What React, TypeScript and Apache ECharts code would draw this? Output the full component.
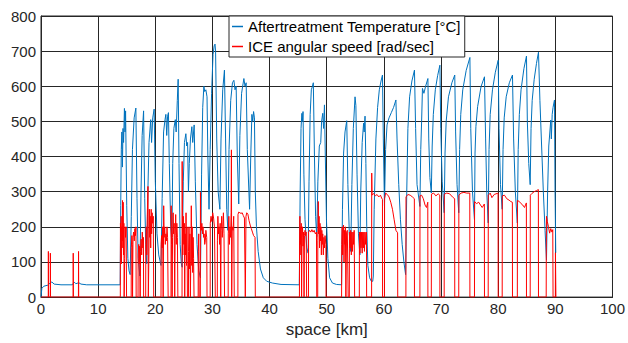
import { useEffect, useRef } from "react";
import * as echarts from "echarts";

type P = [number, number];

const FONT = "'Liberation Sans', Arial, Helvetica, sans-serif";
const seriesNames = ["Aftertreatment Temperature [°C]", "ICE angular speed [rad/sec]"];
const xAxisName = "space [km]";

// Aftertreatment temperature [°C] vs space [km]
const tempWarmup: P[] = [
  [0, 0], [0.15, 25], [0.5, 31], [1.2, 34], [1.6, 40], [1.9, 43], [2.3, 37], [3.5, 35], [5.5, 35],
  [5.8, 43], [6.1, 38], [6.6, 41], [7.0, 37], [8.0, 35], [13.85, 35],
];
const tempCycles1: P[] = [
  [13.95, 260], [14.05, 420], [14.15, 470], [14.25, 370], [14.35, 480], [14.45, 440], [14.6, 537], [14.7, 470], [14.8, 530], [15.0, 260], [15.2, 110], [15.4, 75], [15.6, 64],
  [15.8, 230], [16.0, 420], [16.3, 510], [16.6, 538], [16.8, 280], [17.0, 110], [17.3, 60],
  [17.5, 300], [17.7, 460], [17.95, 530], [18.15, 280], [18.35, 130], [18.5, 95],
  [18.7, 300], [18.9, 440], [19.2, 505], [19.35, 440], [19.55, 510], [19.8, 535], [20.0, 330], [20.3, 180], [20.6, 120], [21.0, 90],
  [21.2, 280], [21.45, 470], [21.7, 505], [21.85, 520], [22.0, 460], [22.15, 515], [22.3, 525], [22.45, 380], [22.7, 200], [22.9, 150],
  [23.05, 380], [23.25, 480], [23.5, 505], [23.65, 470], [23.85, 560], [24.0, 620], [24.15, 380], [24.35, 150], [24.55, 95], [24.7, 85],
  [24.9, 330], [25.1, 440], [25.35, 465], [25.5, 430], [25.65, 440], [25.8, 300], [25.95, 380], [26.15, 450], [26.4, 485], [26.55, 440], [26.8, 490], [27.0, 330], [27.3, 150], [27.6, 75], [27.9, 55],
];
const tempCycles2: P[] = [
  [28.1, 350], [28.3, 540], [28.5, 600], [28.65, 585], [28.85, 590], [29.05, 570], [29.2, 400], [29.4, 250],
  [29.6, 420], [29.85, 580], [30.1, 690], [30.3, 715], [30.45, 720], [30.55, 700], [30.75, 450], [31.0, 300], [31.3, 250],
  [31.5, 450], [31.8, 590], [32.1, 646], [32.3, 450], [32.5, 250], [32.7, 190],
  [32.9, 420], [33.2, 560], [33.5, 610], [33.75, 617], [33.95, 590], [34.15, 600], [34.35, 400], [34.6, 265],
  [34.8, 460], [35.1, 580], [35.5, 622], [35.7, 600], [35.9, 610], [36.1, 420], [36.5, 250],
  [36.7, 400], [36.9, 520], [37.05, 500], [37.2, 528], [37.35, 510], [37.5, 300], [37.7, 200], [38.0, 130], [38.4, 80], [38.9, 55], [39.5, 45], [40.5, 40], [42.0, 36], [45.2, 35],
];
const tempCycles3: P[] = [
  [45.35, 300], [45.5, 480], [45.65, 523], [45.75, 500], [45.85, 528], [46.0, 350], [46.2, 220], [46.5, 140], [46.75, 125],
  [46.9, 330], [47.1, 520], [47.3, 590], [47.5, 600], [47.65, 610], [47.85, 400], [48.05, 230], [48.25, 172],
  [48.45, 330], [48.7, 430], [48.95, 440], [49.1, 500], [49.3, 523], [49.45, 480], [49.6, 547], [49.75, 400], [49.95, 220], [50.2, 110], [50.5, 55], [51.0, 40], [51.7, 36], [52.6, 35],
  [52.75, 250], [52.95, 410], [53.2, 470], [53.5, 502], [53.7, 320], [53.95, 180], [54.2, 130],
  [54.4, 320], [54.65, 480], [54.95, 570], [55.1, 545], [55.3, 350], [55.55, 180], [55.8, 120],
  [55.95, 300], [56.2, 440], [56.45, 495], [56.55, 470], [56.7, 515], [56.85, 380], [57.0, 200], [57.2, 90], [57.5, 55], [57.8, 45], [58.05, 45],
];
const tempCycles4: P[] = [
  [58.15, 60], [58.3, 250], [58.6, 450], [58.9, 540], [59.2, 590], [59.5, 615], [59.75, 632], [59.9, 450], [60.1, 260],
  [60.3, 420], [60.55, 490], [60.9, 510], [61.3, 525], [61.7, 540], [62.1, 561], [62.3, 450], [62.6, 320], [62.9, 220], [63.2, 150], [63.5, 100], [63.8, 64],
  [64.0, 300], [64.2, 480], [64.5, 570], [64.9, 615], [65.35, 646], [65.55, 480], [65.8, 320], [66.3, 258],
  [66.45, 420], [66.6, 500], [66.75, 594], [67.0, 580], [67.3, 600], [67.7, 622], [67.85, 450], [68.05, 340], [68.3, 296],
  [68.45, 430], [68.65, 520], [69.0, 590], [69.4, 630], [69.8, 660], [69.95, 480], [70.2, 330], [70.55, 240],
  [70.7, 410], [70.9, 500], [71.3, 570], [71.9, 610], [72.4, 632], [72.55, 470], [72.8, 320], [73.1, 240],
  [73.25, 420], [73.45, 520], [73.8, 590], [74.4, 645], [75.05, 682], [75.2, 480], [75.5, 300], [75.85, 220],
  [75.95, 410], [76.1, 485], [76.4, 542], [77.0, 599], [77.6, 627], [77.8, 450], [78.0, 300], [78.25, 211],
  [78.4, 420], [78.6, 520], [79.0, 590], [79.5, 640], [80.0, 674], [80.15, 480], [80.4, 320], [80.7, 250],
  [80.85, 420], [81.05, 510], [81.4, 570], [81.95, 610], [82.5, 632], [82.7, 450], [83.0, 300], [83.35, 211],
  [83.5, 420], [83.7, 520], [84.0, 590], [84.5, 650], [84.95, 686], [85.1, 500], [85.35, 380], [85.6, 320],
  [85.75, 480], [85.95, 560], [86.3, 620], [86.7, 665], [87.05, 697], [87.3, 560], [87.6, 430], [87.9, 300], [88.2, 190], [88.45, 105],
  [88.65, 300], [88.85, 430], [89.2, 504], [89.3, 450], [89.45, 520], [89.6, 540], [89.85, 561], [89.95, 300], [90.07, 126],
];

// ICE angular speed [rad/sec] vs space [km]
const speedIdle: P[] = [
  [0, 0], [1.27, 0], [1.29, 130], [1.32, 0], [1.62, 0], [1.64, 125], [1.67, 0], [5.62, 0], [5.64, 125], [5.67, 0],
  [6.55, 0], [6.57, 130], [6.6, 0], [13.88, 0],
];
const speedUrban: P[] = [
  [13.9, 210], [13.97, 185], [14.03, 230], [14.08, 95], [14.14, 200], [14.2, 140], [14.26, 275], [14.32, 160], [14.38, 270], [14.44, 120], [14.5, 210], [14.55, 0],
  [14.62, 0], [14.64, 110], [14.72, 200], [14.8, 170], [14.9, 200], [14.97, 0],
  [15.78, 0], [15.8, 140], [15.9, 175], [15.98, 150], [16.02, 0], [16.08, 0], [16.1, 170], [16.2, 185], [16.32, 160], [16.42, 195], [16.52, 175], [16.62, 200], [16.65, 0],
  [16.98, 0], [17.0, 120], [17.1, 150], [17.18, 95], [17.26, 145], [17.35, 0], [17.4, 0], [17.42, 130], [17.52, 165], [17.62, 120], [17.72, 185], [17.82, 140], [17.92, 170], [17.96, 0],
  [18.32, 0], [18.34, 150], [18.42, 200], [18.5, 120], [18.6, 230], [18.72, 315], [18.78, 0], [18.86, 0], [18.88, 120], [18.96, 250], [19.04, 170], [19.12, 230], [19.2, 140], [19.28, 250], [19.36, 180], [19.45, 240], [19.55, 210], [19.65, 230], [19.72, 0],
  [21.0, 0], [21.02, 150], [21.1, 175], [21.2, 140], [21.28, 200], [21.38, 0], [21.45, 0], [21.47, 260], [21.55, 170], [21.65, 200], [21.75, 150], [21.85, 180], [21.95, 160], [22.05, 200], [22.15, 170], [22.25, 0],
  [22.75, 0], [22.77, 260], [22.85, 150], [22.95, 0], [23.0, 0], [23.02, 170], [23.12, 240], [23.2, 180], [23.3, 210], [23.4, 0], [23.45, 0], [23.47, 175], [23.57, 235], [23.67, 150], [23.77, 210], [23.87, 170], [23.95, 0],
  [24.68, 0], [24.7, 386], [24.75, 200], [24.82, 120], [24.9, 230], [25.0, 150], [25.08, 210], [25.15, 0], [25.2, 0], [25.22, 180], [25.3, 120], [25.38, 240], [25.46, 90], [25.55, 200], [25.62, 0],
  [25.8, 0], [25.82, 130], [25.9, 200], [25.98, 80], [26.06, 180], [26.14, 0], [26.2, 0], [26.22, 120], [26.3, 260], [26.38, 90], [26.46, 200], [26.54, 70], [26.62, 170], [26.7, 110], [26.78, 0],
  [27.5, 0], [27.52, 130], [27.6, 180], [27.68, 0],
  [27.88, 0], [27.9, 298], [27.96, 210], [28.05, 190], [28.15, 210], [28.25, 180], [28.35, 200], [28.45, 170], [28.55, 180], [28.65, 150], [28.75, 160], [28.85, 190], [29.0, 170], [29.05, 0],
];
const speedSuburban: P[] = [
  [29.6, 0], [29.62, 210], [29.75, 230], [29.9, 215], [30.05, 240], [30.2, 225], [30.35, 200], [30.5, 0],
  [30.85, 0], [30.87, 160], [30.95, 230], [31.05, 180], [31.15, 200], [31.25, 150], [31.35, 210], [31.45, 0], [31.5, 0], [31.52, 190], [31.62, 230], [31.72, 170], [31.82, 200], [31.92, 240], [32.02, 180], [32.12, 0],
  [32.75, 0], [32.77, 180], [32.87, 230], [32.97, 150], [33.07, 200], [33.17, 170], [33.27, 240], [33.32, 419], [33.37, 0], [33.45, 0], [33.47, 200], [33.6, 190], [33.72, 230], [33.82, 0],
  [34.45, 0], [34.47, 235], [34.6, 242], [34.8, 240], [35.0, 238], [35.2, 240], [35.4, 232], [35.6, 225], [35.75, 0], [35.85, 0], [35.87, 230], [36.0, 240], [36.2, 236], [36.4, 218], [36.6, 205], [36.8, 195], [37.0, 185], [37.2, 175], [37.45, 170], [37.5, 0],
];
const speedRural: P[] = [
  [45.22, 0], [45.24, 160], [45.3, 230], [45.36, 150], [45.42, 200], [45.48, 120], [45.54, 210], [45.6, 0], [45.66, 0], [45.68, 170], [45.76, 200], [45.85, 145], [45.95, 185], [46.03, 0], [46.08, 0], [46.1, 175], [46.2, 190], [46.3, 175], [46.4, 185], [46.48, 0],
  [46.8, 0], [46.82, 185], [47.0, 190], [47.2, 185], [47.4, 192], [47.6, 185], [47.8, 190], [48.0, 180], [48.2, 185], [48.25, 0],
  [48.42, 0], [48.44, 160], [48.52, 272], [48.58, 180], [48.66, 230], [48.74, 140], [48.82, 210], [48.9, 160], [48.98, 200], [49.06, 120], [49.14, 190], [49.22, 150], [49.3, 180], [49.4, 120], [49.5, 170], [49.6, 140], [49.7, 175], [49.85, 150], [49.88, 0],
  [52.6, 0], [52.62, 150], [52.7, 200], [52.78, 120], [52.86, 180], [52.94, 205], [53.02, 100], [53.1, 190], [53.18, 150], [53.26, 200], [53.35, 0], [53.45, 0], [53.47, 185], [53.6, 190], [53.75, 0],
  [53.95, 0], [53.97, 185], [54.1, 140], [54.2, 190], [54.3, 120], [54.4, 185], [54.5, 130], [54.6, 185], [54.7, 150], [54.8, 190], [54.88, 0],
  [55.7, 0], [55.72, 185], [55.8, 125], [55.9, 185], [56.0, 140], [56.1, 185], [56.2, 125], [56.3, 185], [56.4, 140], [56.5, 185], [56.6, 130], [56.7, 185], [56.8, 150], [56.95, 185], [56.98, 0],
];
const speedHighway: P[] = [
  [57.85, 0], [57.87, 353], [57.93, 290], [58.2, 295], [58.5, 288], [58.8, 292], [59.1, 285], [59.4, 290], [59.6, 282], [59.75, 278], [59.77, 0],
  [60.1, 0], [60.12, 280], [60.3, 296], [60.6, 292], [60.9, 285], [61.2, 270], [61.5, 250], [61.8, 220], [62.1, 190], [62.4, 183], [62.42, 0],
  [63.85, 0], [63.87, 285], [64.2, 292], [64.6, 290], [65.0, 285], [65.33, 280], [65.35, 0],
  [66.3, 0], [66.32, 288], [66.6, 290], [66.9, 280], [67.2, 262], [67.45, 255], [67.68, 270], [67.7, 0],
  [68.3, 0], [68.32, 293], [68.7, 296], [69.1, 288], [69.5, 294], [69.78, 290], [69.8, 0],
  [70.55, 0], [70.57, 293], [71.0, 296], [71.5, 294], [72.0, 285], [72.38, 280], [72.4, 0],
  [73.1, 0], [73.12, 290], [73.5, 296], [74.0, 298], [74.5, 296], [75.03, 296], [75.05, 0],
  [75.85, 0], [75.87, 272], [76.2, 266], [76.6, 270], [76.9, 262], [77.2, 255], [77.58, 265], [77.6, 0],
  [78.25, 0], [78.27, 290], [78.6, 296], [78.9, 283], [79.3, 292], [79.98, 296], [80.0, 0],
  [80.7, 0], [80.72, 288], [81.1, 290], [81.5, 280], [81.9, 276], [82.2, 272], [82.48, 270], [82.5, 0],
  [83.35, 0], [83.37, 275], [83.7, 272], [84.0, 266], [84.3, 262], [84.6, 255], [84.93, 268], [84.95, 0],
  [85.6, 0], [85.62, 290], [85.9, 295], [86.3, 300], [86.7, 303], [87.03, 306], [87.05, 0],
  [88.4, 0], [88.42, 140], [88.45, 230], [88.6, 215], [88.8, 200], [89.0, 182], [89.2, 195], [89.4, 185], [89.55, 192], [89.6, 0],
  [90.0, 0], [90.02, 126], [90.08, 126], [90.1, 0],
];

const tempData: P[] = [...tempWarmup, ...tempCycles1, ...tempCycles2, ...tempCycles3, ...tempCycles4];
const speedData: P[] = [...speedIdle, ...speedUrban, ...speedSuburban, [38, 0], ...speedRural, ...speedHighway];

const AXIS_COLOR = "#262626";
const GRID_COLOR = "#262626";

export default function App() {
  const ref = useRef<HTMLDivElement>(null);
  useEffect(() => {
    document.body.style.margin = "0";
    if (!ref.current) return;
    const chart = echarts.init(ref.current, undefined, { renderer: "svg" });
    chart.setOption({
      animation: false,
      backgroundColor: "#ffffff",
      textStyle: { fontFamily: FONT },
      grid: { left: 41, right: 13, top: 16, bottom: 45, show: true, borderColor: AXIS_COLOR, borderWidth: 1 },
      legend: {
        data: seriesNames,
        orient: "vertical",
        left: 229,
        top: 16,
        icon: "rect",
        itemWidth: 11,
        itemHeight: 1.5,
        itemGap: 5,
        padding: [3, 4, 3, 3],
        backgroundColor: "#ffffff",
        borderColor: AXIS_COLOR,
        borderWidth: 1,
        borderRadius: 0,
        textStyle: { fontSize: 15, color: "#000000", fontFamily: FONT },
      },
      xAxis: {
        type: "value",
        min: 0,
        max: 100,
        interval: 10,
        name: xAxisName,
        nameLocation: "middle",
        nameGap: 20,
        nameTextStyle: { fontSize: 17, color: AXIS_COLOR, fontFamily: FONT },
        axisLine: { show: true, onZero: false, lineStyle: { color: AXIS_COLOR, width: 1 } },
        axisTick: { show: false },
        axisLabel: { fontSize: 15, color: AXIS_COLOR, margin: 4, fontFamily: FONT },
        splitLine: { show: true, lineStyle: { color: GRID_COLOR, width: 1 } },
      },
      yAxis: {
        type: "value",
        min: 0,
        max: 800,
        interval: 100,
        axisLine: { show: true, lineStyle: { color: AXIS_COLOR, width: 1 } },
        axisTick: { show: false },
        axisLabel: { fontSize: 15, color: AXIS_COLOR, margin: 5, fontFamily: FONT },
        splitLine: { show: true, lineStyle: { color: GRID_COLOR, width: 1 } },
      },
      series: [
        {
          name: seriesNames[0],
          type: "line",
          data: tempData,
          showSymbol: false,
          symbol: "none",
          color: "#0072BD",
          lineStyle: { color: "#0072BD", width: 1 },
        },
        {
          name: seriesNames[1],
          type: "line",
          data: speedData,
          showSymbol: false,
          symbol: "none",
          color: "#FF0000",
          lineStyle: { color: "#FF0000", width: 1 },
        },
      ],
    });
    return () => chart.dispose();
  }, []);
  return <div ref={ref} style={{ position: "absolute", left: 0, top: 0, width: 628, height: 343 }} />;
}
